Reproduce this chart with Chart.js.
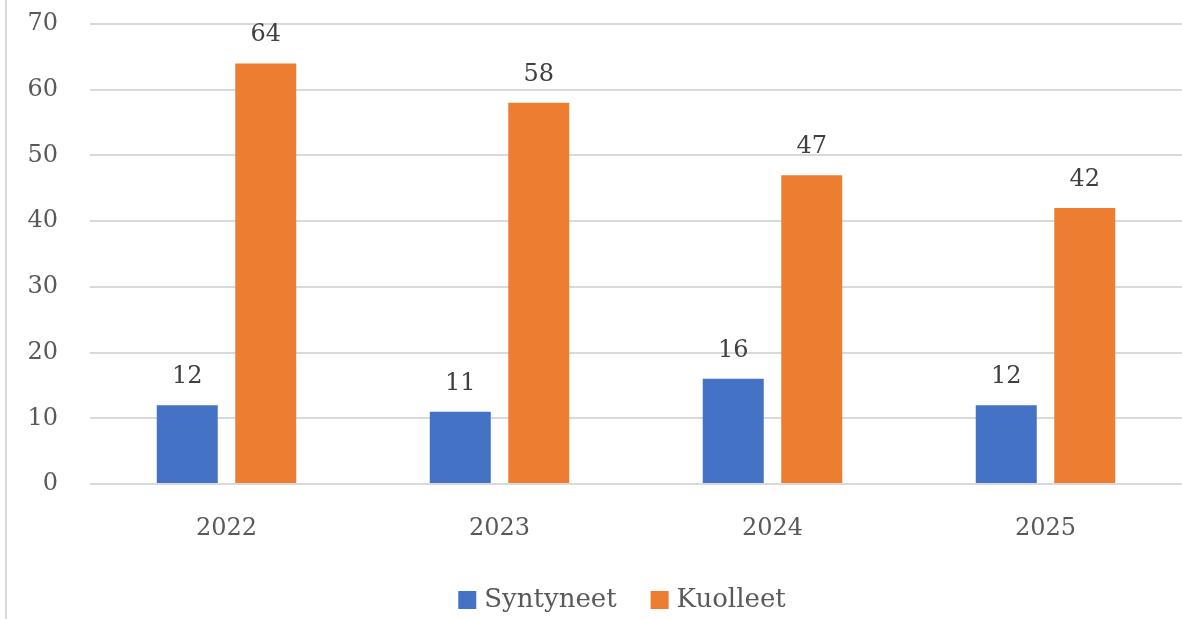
<!DOCTYPE html>
<html><head><meta charset="utf-8">
<script src="https://cdn.jsdelivr.net/npm/chart.js@4.4.1/dist/chart.umd.min.js"></script>
<style>
html,body{margin:0;padding:0;background:#fff;}
#wrap{position:absolute;left:0;top:0;width:1182px;height:619px;}
#edge{position:absolute;left:5px;top:0;width:2px;height:619px;background:#d9d9d9;}
</style></head>
<body>
<div id="wrap"><canvas id="c" width="1182" height="619"></canvas></div>
<div id="edge"></div>
<script>
const categories = ['2022', '2023', '2024', '2025'];
const syntyneet = [12, 11, 16, 12];
const kuolleet = [64, 58, 47, 42];
const seriesNames = ['Syntyneet', 'Kuolleet'];
const yTicks = [0, 10, 20, 30, 40, 50, 60, 70];

const FONT = 'DejaVu Serif';
const TXT = '#595959';

const valueLabels = {
  id: 'valueLabels',
  afterDatasetsDraw(chart) {
    const ctx = chart.ctx;
    ctx.save();
    ctx.font = '24px "' + FONT + '"';
    ctx.fillStyle = '#404040';
    ctx.textAlign = 'center';
    ctx.textBaseline = 'alphabetic';
    chart.data.datasets.forEach((ds, i) => {
      chart.getDatasetMeta(i).data.forEach((bar, j) => {
        ctx.fillText(String(ds.data[j]), bar.x, bar.y - 22);
      });
    });
    ctx.restore();
  }
};

const bottomLegend = {
  id: 'bottomLegend',
  afterDraw(chart) {
    const ctx = chart.ctx;
    ctx.save();
    ctx.font = '26px "' + FONT + '"';
    ctx.textBaseline = 'middle';
    ctx.textAlign = 'left';
    const box = 18, gap = 8, itemGap = 34, cy = 600, cx = 622;
    const items = chart.data.datasets.map(ds => ({ text: ds.label, color: ds.backgroundColor, w: ctx.measureText(ds.label).width }));
    const total = items.reduce((s, it) => s + box + gap + it.w, 0) + itemGap * (items.length - 1);
    let x = cx - total / 2;
    items.forEach(it => {
      ctx.fillStyle = it.color;
      ctx.fillRect(x, cy - box / 2, box, box);
      x += box + gap;
      ctx.fillStyle = TXT;
      ctx.fillText(it.text, x, cy);
      x += it.w + itemGap;
    });
    ctx.restore();
  }
};

new Chart(document.getElementById('c'), {
  type: 'bar',
  data: {
    labels: categories,
    datasets: [
      { label: seriesNames[0], data: syntyneet, backgroundColor: '#4472C4' },
      { label: seriesNames[1], data: kuolleet, backgroundColor: '#ED7D31' }
    ]
  },
  options: {
    responsive: false,
    animation: false,
    devicePixelRatio: 1,
    categoryPercentage: 0.575,
    barPercentage: 0.777,
    layout: { padding: { top: 24, right: 0, bottom: 64, left: 0 } },
    scales: {
      x: {
        grid: { display: false, drawTicks: false },
        border: { display: false },
        ticks: { color: TXT, font: { family: FONT, size: 24 }, padding: 30 },
        afterFit(s) { s.height = 71; }
      },
      y: {
        min: 0, max: 70,
        afterBuildTicks(s) { s.ticks = yTicks.map(v => ({ value: v })); },
        grid: { color: '#d9d9d9', lineWidth: 2, drawTicks: true, tickLength: 32, tickColor: 'rgba(0,0,0,0)' },
        border: { display: false },
        ticks: { color: TXT, font: { family: FONT, size: 24 }, padding: 0 },
        afterFit(s) { s.width = 90; }
      }
    },
    plugins: {
      legend: { display: false },
      tooltip: { enabled: false }
    }
  },
  plugins: [valueLabels, bottomLegend]
});
</script>
</body></html>
